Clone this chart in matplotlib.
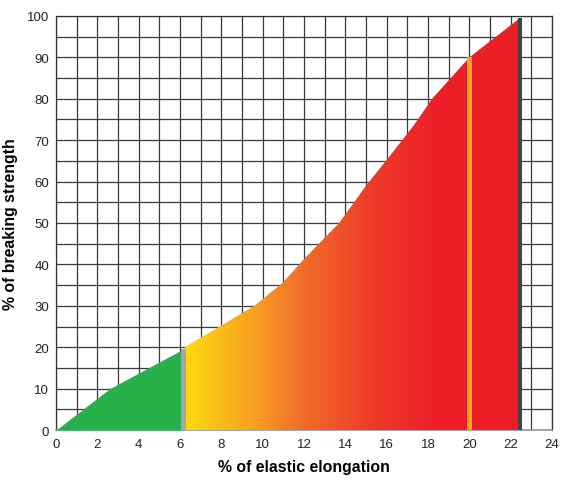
import numpy as np
import matplotlib.pyplot as plt
from matplotlib.colors import LinearSegmentedColormap
from matplotlib.patches import Polygon

plt.rcParams['font.family'] = ['Liberation Sans', 'DejaVu Sans']

# ---------- data ----------
# elastic zone (green)
x_green = [0, 2.6, 6.1]
y_green = [0, 10, 19.4]
# plastic zone (gradient yellow -> red)
x_main = [6.22, 9.6, 11.0, 12.0, 13.7, 15.0, 16.2, 17.3, 18.2, 20.0, 22.45]
y_main = [20, 30, 35.7, 41.3, 50, 59.0, 66.5, 73.5, 80, 90, 99.5]
# marker bars: x position, top value
bar_x = [6.16, 20.02, 22.46]
bar_top = [19.5, 90, 99.5]
bar_colors = ["#a4a4ad", "#efa920", "#444444"]
bar_widths = [0.24, 0.24, 0.2]

xticks = np.arange(0, 25, 2)
yticks = np.arange(0, 101, 10)

fig = plt.figure(figsize=(5.64, 4.85), dpi=100)
ax = fig.add_axes([0.0993, 0.1113, 0.8794, 0.8537])

ax.set_xlim(0, 24)
ax.set_ylim(0, 100)

# grid
ax.set_xticks(np.arange(0, 25, 1), minor=True)
ax.set_yticks(np.arange(0, 101, 5), minor=True)
ax.grid(which="both", color="#3a3a3a", linewidth=0.9, zorder=0)
ax.set_axisbelow(True)

# green area
ax.fill_between(x_green, y_green, 0, color="#27b14b", linewidth=0, zorder=3)

# gradient area
cmap = LinearSegmentedColormap.from_list(
    "heat", [(0.0, "#fdda10"), (0.2, "#f7a21f"), (0.34, "#f0702a"),
             (0.56, "#ee3a28"), (0.75, "#ec1f27"), (1.0, "#ec1f27")])
grad = np.linspace(0, 1, 512).reshape(1, -1)
x0, x1 = x_main[0], x_main[-1]
img = ax.imshow(grad, cmap=cmap, extent=(x0, x1, 0, 100), aspect="auto",
                origin="lower", zorder=3, interpolation="bilinear")
verts = [(x0, 0)] + list(zip(x_main, y_main)) + [(x1, 0)]
poly = Polygon(verts, closed=True, facecolor="none", edgecolor="none")
ax.add_patch(poly)
img.set_clip_path(poly)

# vertical bars
for bx, bt, bc, bw in zip(bar_x, bar_top, bar_colors, bar_widths):
    ax.bar(bx, bt, width=bw, color=bc, linewidth=0, zorder=4)

ax.set_xticks(xticks)
ax.set_yticks(yticks)
ax.tick_params(which="both", length=0, labelsize=9.5, colors="#222222")
ax.tick_params(axis="x", pad=6)
ax.tick_params(axis="y", pad=5)

for s in ax.spines.values():
    s.set_color("#333333")
    s.set_linewidth(0.9)
ax.spines["bottom"].set_color("#8a9aa8")
ax.spines["bottom"].set_linewidth(1.2)

ax.set_xlabel("% of elastic elongation", fontsize=11.4, fontweight="bold", labelpad=6)
ax.set_ylabel("% of breaking strength", fontsize=11.4, fontweight="bold", labelpad=6)

fig.savefig("out.png", dpi=100)
